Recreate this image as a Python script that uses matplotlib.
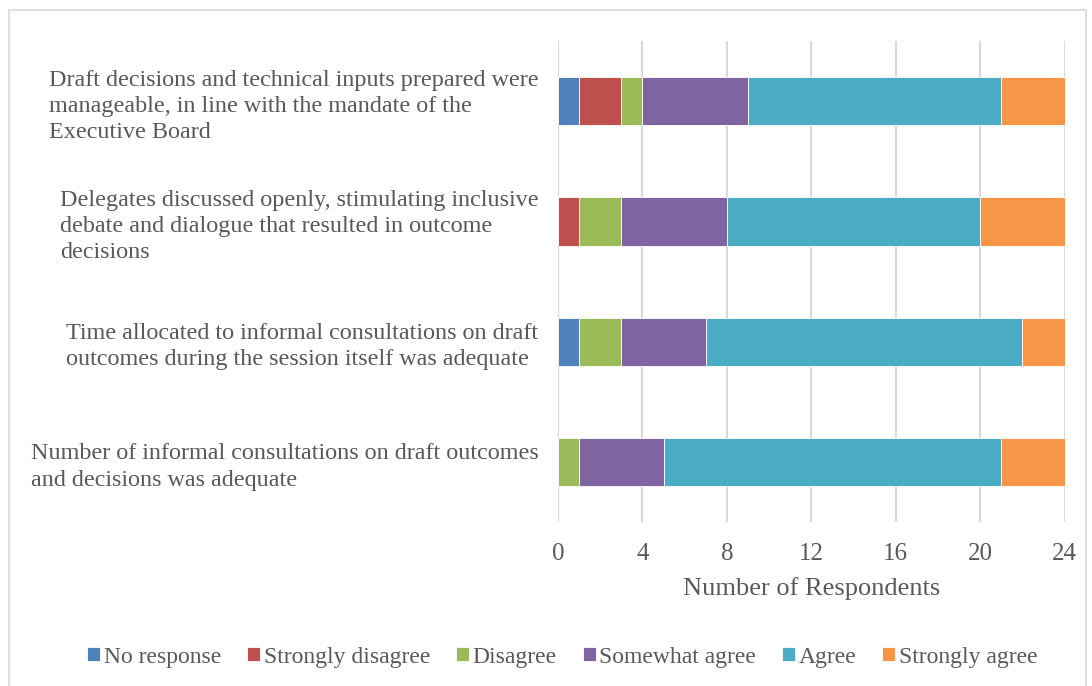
import numpy as np
import matplotlib.pyplot as plt
from matplotlib.patches import Rectangle

plt.rcParams['font.family'] = ['Liberation Serif', 'DejaVu Serif']

statements = [
    "Draft decisions and technical inputs prepared were\nmanageable, in line with the mandate of the\nExecutive Board",
    "Delegates discussed openly, stimulating inclusive\ndebate and dialogue that resulted in outcome\ndecisions",
    "Time allocated to informal consultations on draft\noutcomes during the session itself was adequate",
    "Number of informal consultations on draft outcomes\nand decisions was adequate",
]
responses = ["No response", "Strongly disagree", "Disagree",
             "Somewhat agree", "Agree", "Strongly agree"]
no_response = [1, 0, 1, 0]
strongly_disagree = [2, 1, 0, 0]
disagree = [1, 2, 2, 1]
somewhat_agree = [5, 5, 4, 4]
agree = [12, 12, 15, 16]
strongly_agree = [3, 4, 2, 3]
xticks = [0, 4, 8, 12, 16, 20, 24]

colors = ["#4F81BD", "#C0504D", "#9BBB59", "#8064A2", "#4BACC6", "#F79646"]
series = [no_response, strongly_disagree, disagree, somewhat_agree, agree, strongly_agree]
txt = "#595959"

fig = plt.figure(figsize=(10.92, 6.86), dpi=100)
ax = fig.add_axes([0.511, 0.239, 0.464, 0.701])

# outer chart border
fig.patches.append(Rectangle((9 / 1092, -0.1), 1077 / 1092, 1.1 - 10 / 686,
                             transform=fig.transFigure, fill=False,
                             edgecolor="#D9D9D9", lw=1.2))

y = np.arange(len(statements))
left = np.zeros(len(statements))
for name, vals, c in zip(responses, series, colors):
    ax.barh(y, vals, left=left, height=0.4, color=c, edgecolor="white",
            linewidth=0.6, label=name, zorder=3)
    left += np.array(vals)

ax.set_ylim(3.5, -0.5)
ax.set_xlim(0, 24)
ax.set_xticks(xticks)
ax.set_yticks(y)
ax.set_yticklabels(statements, multialignment="left", linespacing=1.32)
ax.tick_params(axis="y", length=0, labelsize=17.4, labelcolor=txt, pad=14)
ax.tick_params(axis="x", length=0, labelsize=18, labelcolor=txt, pad=15)
ax.grid(axis="x", color="#D9D9D9", lw=1.5, zorder=0)
for s in ax.spines.values():
    s.set_visible(False)
ax.set_xlabel("Number of Respondents", fontsize=19, color=txt, labelpad=9)

fig.legend(loc="center", bbox_to_anchor=(0.515, 0.042), ncol=6, frameon=False,
           fontsize=17, labelcolor=txt, handlelength=0.55, handleheight=0.55,
           handletextpad=0.15, columnspacing=1.1)

fig.savefig("out.png", dpi=100)
